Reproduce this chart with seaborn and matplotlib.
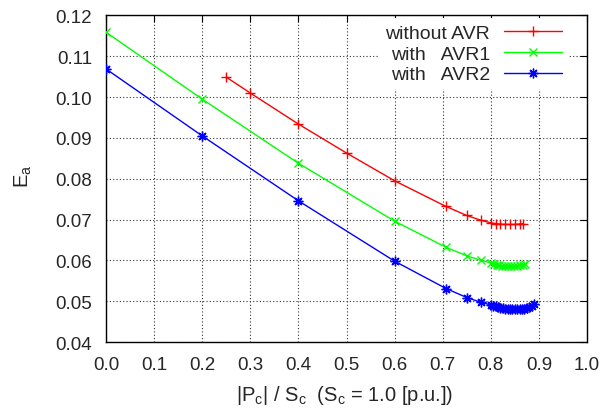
import matplotlib
matplotlib.use("Agg")
import matplotlib.pyplot as plt
import seaborn as sns

# E_a versus |P_c|/S_c for the three control cases
x_no_avr = [0.25, 0.30, 0.40, 0.50, 0.60, 0.707, 0.75, 0.78, 0.80,
            0.81, 0.82, 0.83, 0.84, 0.85, 0.86, 0.866]
y_no_avr = [0.1049, 0.1010, 0.0934, 0.0863, 0.0795, 0.0732, 0.0710, 0.0698, 0.0692,
            0.0690, 0.0689, 0.0688, 0.0688, 0.0688, 0.0689, 0.0690]

x_avr1 = [0.00, 0.20, 0.40, 0.60, 0.707, 0.75, 0.78, 0.80,
          0.806, 0.812, 0.818, 0.824, 0.830, 0.836, 0.842, 0.848,
          0.854, 0.860, 0.866, 0.872]
y_avr1 = [0.1159, 0.0995, 0.0838, 0.0696, 0.0632, 0.0611, 0.0600, 0.0594,
          0.0591, 0.0589, 0.0588, 0.0587, 0.0586, 0.0586, 0.0586, 0.0586,
          0.0587, 0.0588, 0.0589, 0.0591]

x_avr2 = [0.00, 0.20, 0.40, 0.60, 0.707, 0.75, 0.78, 0.80,
          0.805, 0.810, 0.815, 0.820, 0.825, 0.830, 0.835, 0.840,
          0.845, 0.850, 0.855, 0.860, 0.865, 0.870, 0.875, 0.880,
          0.885, 0.890]
y_avr2 = [0.1069, 0.0905, 0.0746, 0.0598, 0.0531, 0.0509, 0.0497, 0.0491,
          0.0489, 0.0487, 0.0485, 0.0484, 0.0483, 0.0482, 0.0481, 0.0481,
          0.0480, 0.0480, 0.0480, 0.0481, 0.0481, 0.0482, 0.0484, 0.0486,
          0.0489, 0.0493]

series_labels = ["without AVR", "with   AVR1", "with   AVR2"]
series_colors = ["#ff0000", "#00ff00", "#0000ff"]

x_ticks = [0.0, 0.1, 0.2, 0.3, 0.4, 0.5, 0.6, 0.7, 0.8, 0.9, 1.0]
y_ticks = [0.04, 0.05, 0.06, 0.07, 0.08, 0.09, 0.10, 0.11, 0.12]

sns.set_style("white")
plt.rcParams["font.family"] = ["Liberation Sans", "DejaVu Sans"]
plt.rcParams["mathtext.default"] = "regular"
plt.rcParams["font.size"] = 13.5

fig = plt.figure(figsize=(6.03, 4.10), dpi=100)
ax = fig.add_axes([0.1758, 0.1634, 0.7977, 0.7964])

markers = ["+", "x", (8, 2, 0)]
sizes = [7, 6, 7]
data = [(x_no_avr, y_no_avr), (x_avr1, y_avr1), (x_avr2, y_avr2)]
for (xs, ys), lab, col, mk, ms in zip(data, series_labels, series_colors, markers, sizes):
    sns.lineplot(x=xs, y=ys, ax=ax, color=col, label=lab, marker=mk,
                 markersize=ms, markeredgewidth=1.0, markeredgecolor=col,
                 markerfacecolor=col, linewidth=1.0,
                 estimator=None, sort=False, zorder=3)

ax.set_xlim(0.0, 1.0)
ax.set_ylim(0.04, 0.12)
ax.set_xticks(x_ticks)
ax.set_yticks(y_ticks)
ax.set_xticklabels([f"{v:.1f}" for v in x_ticks])
ax.set_yticklabels([f"{v:.2f}" for v in y_ticks])

ax.grid(True, color="#333333", linestyle=(0, (1, 2)), linewidth=0.8)
ax.set_axisbelow(True)
ax.tick_params(direction="in", length=5, width=0.8, top=True, right=True,
               labelsize=13.5, color="black")
ax.tick_params(axis="y", pad=10)
ax.tick_params(axis="x", pad=10)
for sp in ax.spines.values():
    sp.set_visible(True)
    sp.set_color("black")
    sp.set_linewidth(1.0)

ax.set_xlabel("|P$_c$| / S$_c$  (S$_c$ = 1.0 [p.u.])", fontsize=14.5)
ax.set_ylabel("E$_a$", fontsize=14.5)
ax.xaxis.set_label_coords(0.497, -0.127)
ax.yaxis.set_label_coords(-0.150, 0.51)

leg = ax.legend(loc="upper right", bbox_to_anchor=(0.9605, 0.991),
                markerfirst=False, frameon=True, fancybox=False,
                facecolor="white", edgecolor="none", framealpha=1.0,
                fontsize=14, handlelength=3.0, handletextpad=0.72,
                labelspacing=0.16, borderpad=0.3, borderaxespad=0.0)
leg.set_zorder(5)

fig.savefig("out.png", dpi=100, facecolor="white")
